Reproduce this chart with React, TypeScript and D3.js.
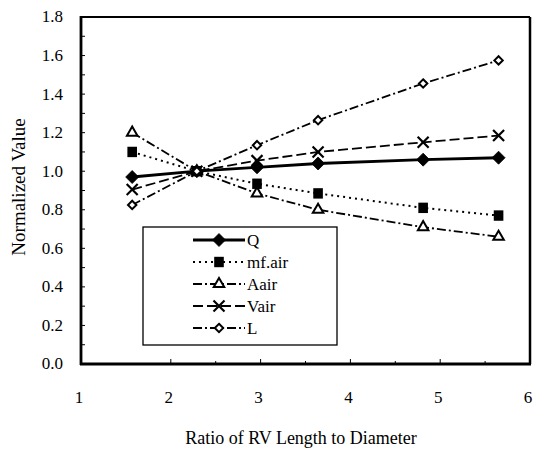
import React from "react";
import * as d3 from "d3";

const xValues = [1.57, 2.29, 2.96, 3.64, 4.81, 5.65];
const qValues = [0.97, 1.0, 1.02, 1.04, 1.06, 1.07];
const mfAirValues = [1.1, 1.0, 0.935, 0.885, 0.81, 0.77];
const aAirValues = [1.2, 1.0, 0.885, 0.8, 0.71, 0.66];
const vAirValues = [0.905, 1.0, 1.055, 1.1, 1.15, 1.185];
const lValues = [0.825, 1.0, 1.135, 1.265, 1.455, 1.575];

const seriesNames = ["Q", "mf.air", "Aair", "Vair", "L"];
const xTickLabels = ["1", "2", "3", "4", "5", "6"];
const yTickLabels = ["0.0", "0.2", "0.4", "0.6", "0.8", "1.0", "1.2", "1.4", "1.6", "1.8"];

const W = 533;
const H = 451;
const left = 81;
const right = 530;
const top = 17;
const bottom = 364;
const font = "'Liberation Serif', 'Times New Roman', serif";

type Style = {
  name: string;
  values: number[];
  dash: string | undefined;
  width: number;
  marker: string;
};

const styles: Style[] = [
  { name: seriesNames[0], values: qValues, dash: undefined, width: 2.8, marker: "diamondFilled" },
  { name: seriesNames[1], values: mfAirValues, dash: "2,4", width: 2, marker: "square" },
  { name: seriesNames[2], values: aAirValues, dash: "9,3,2,3", width: 1.8, marker: "triangle" },
  { name: seriesNames[3], values: vAirValues, dash: "10,4", width: 1.8, marker: "x" },
  { name: seriesNames[4], values: lValues, dash: "9,3,2,3", width: 1.8, marker: "diamondOpen" },
];

function diamondPath(r: number) {
  const p = d3.path();
  p.moveTo(0, -r);
  p.lineTo(r, 0);
  p.lineTo(0, r);
  p.lineTo(-r, 0);
  p.closePath();
  return p.toString();
}

function Marker({ kind, x, y }: { kind: string; x: number; y: number }) {
  if (kind === "diamondFilled") {
    return <path d={diamondPath(6.5)} transform={`translate(${x},${y})`} fill="#000" stroke="#000" strokeWidth={0.8} />;
  }
  if (kind === "square") {
    return <rect x={x - 4.8} y={y - 5.2} width={9.6} height={10.4} fill="#000" />;
  }
  if (kind === "triangle") {
    const p = d3.symbol().type(d3.symbolTriangle).size(48)();
    return <path d={p || ""} transform={`translate(${x},${y})`} fill="#fff" stroke="#000" strokeWidth={2} />;
  }
  if (kind === "x") {
    const s = 5.5;
    return (
      <g transform={`translate(${x},${y})`} stroke="#000" strokeWidth={2.2}>
        <line x1={-s} y1={-s} x2={s} y2={s} />
        <line x1={-s} y1={s} x2={s} y2={-s} />
      </g>
    );
  }
  return <path d={diamondPath(4.2)} transform={`translate(${x},${y})`} fill="#fff" stroke="#000" strokeWidth={2} />;
}

export default function App() {
  const xScale = d3.scaleLinear().domain([1, 6]).range([left, right]);
  const yScale = d3.scaleLinear().domain([0, 1.8]).range([bottom, top]);
  const line = d3
    .line<[number, number]>()
    .x((d) => xScale(d[0]))
    .y((d) => yScale(d[1]));

  const yMinor = d3.range(0, 19).map((i) => i / 10);
  const xMinor = d3.range(2, 6, 0.5);

  const legendX = 143;
  const legendY = 227;
  const legendW = 194;
  const legendH = 118;
  const rowY = (i: number) => legendY + 13 + i * 22;

  return (
    <svg
      width={W}
      height={H}
      style={{ position: "absolute", left: 0, top: 0, background: "#fff" }}
      fontFamily={font}
    >
      <rect x={0} y={0} width={W} height={H} fill="#fff" />
      {/* frame */}
      <line x1={left} y1={top} x2={right} y2={top} stroke="#000" strokeWidth={2.2} />
      <line x1={right} y1={top} x2={right} y2={bottom} stroke="#000" strokeWidth={2.5} />
      <line x1={left} y1={top - 1} x2={left} y2={bottom + 1} stroke="#000" strokeWidth={2.8} />
      <line x1={left - 1} y1={bottom} x2={right + 1} y2={bottom} stroke="#000" strokeWidth={2.8} />

      {/* ticks */}
      {yMinor.map((v, i) => (
        <line key={"yt" + i} x1={left} x2={left + 4} y1={yScale(v)} y2={yScale(v)} stroke="#000" strokeWidth={1} />
      ))}
      {xMinor.map((v, i) => (
        <line key={"xt" + i} x1={xScale(v)} x2={xScale(v)} y1={bottom} y2={bottom - (Number.isInteger(v) ? 5 : 3)} stroke="#000" strokeWidth={1} />
      ))}

      {/* y labels */}
      {yTickLabels.map((t, i) => (
        <text key={"yl" + i} x={63} y={yScale(+t)} dy="0.32em" textAnchor="end" fontSize={17}>
          {t}
        </text>
      ))}
      {/* x labels */}
      {xTickLabels.map((t, i) => (
        <text key={"xl" + i} x={xScale(+t) - 2} y={403} textAnchor="middle" fontSize={17}>
          {t}
        </text>
      ))}

      <text x={301} y={444} textAnchor="middle" fontSize={18}>
        Ratio of RV Length to Diameter
      </text>
      <text transform={`translate(25,187) rotate(-90)`} textAnchor="middle" fontSize={19}>
        Normalized Value
      </text>

      {/* series */}
      {styles.map((s) => (
        <path
          key={"l" + s.name}
          d={line(xValues.map((x, i) => [x, s.values[i]] as [number, number])) || ""}
          fill="none"
          stroke="#000"
          strokeWidth={s.width}
          strokeDasharray={s.dash}
        />
      ))}
      {styles.map((s) => (
        <g key={"m" + s.name}>
          {xValues.map((x, i) => (
            <Marker key={i} kind={s.marker} x={xScale(x)} y={yScale(s.values[i])} />
          ))}
        </g>
      ))}

      {/* legend */}
      <rect x={legendX} y={legendY} width={legendW} height={legendH} fill="#fff" stroke="#000" strokeWidth={1.3} />
      {styles.map((s, i) => (
        <g key={"lg" + s.name}>
          <line x1={193} x2={245} y1={rowY(i)} y2={rowY(i)} stroke="#000" strokeWidth={s.width} strokeDasharray={s.dash} />
          <Marker kind={s.marker} x={219} y={rowY(i)} />
          <text x={247} y={rowY(i)} dy="0.35em" fontSize={17}>
            {s.name}
          </text>
        </g>
      ))}
    </svg>
  );
}
